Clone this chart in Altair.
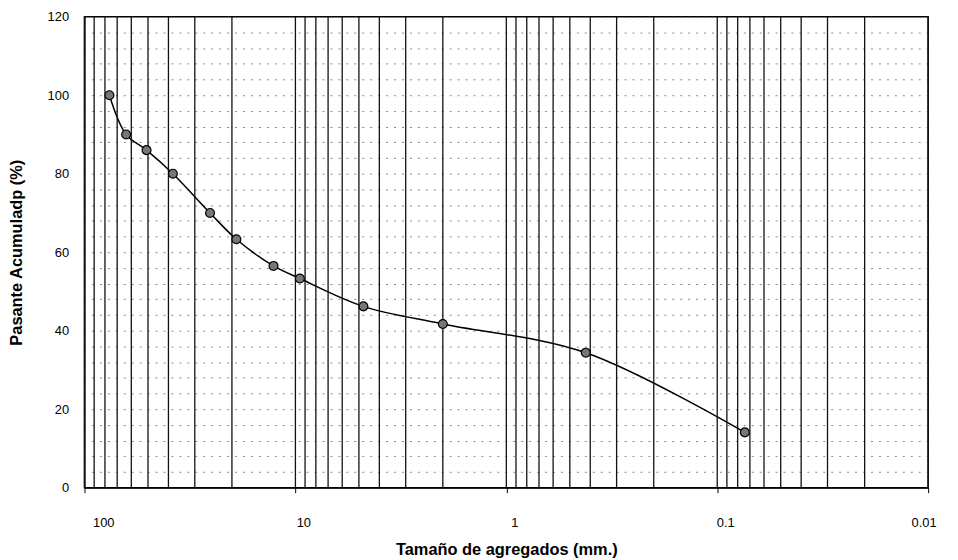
import altair as alt
import pandas as pd

# Sieve sizes (mm) and cumulative passing (%)
sizes_mm = [76.2, 63.5, 50.8, 38.1, 25.4, 19.05, 12.7, 9.525, 4.76, 2.0, 0.42, 0.074]
passing_pct = [100, 90, 86, 80, 70, 63.3, 56.5, 53.3, 46.2, 41.7, 34.4, 14.1]

# Axis structure
x_decades = [100, 10, 1, 0.1, 0.01]
x_grid = [100, 90, 80, 70, 60, 50, 40, 30, 20,
          10, 9, 8, 7, 6, 5, 4, 3, 2,
          1, 0.9, 0.8, 0.7, 0.6, 0.5, 0.4, 0.3, 0.2,
          0.1, 0.09, 0.08, 0.07, 0.06, 0.05, 0.04, 0.03, 0.02, 0.01]
y_grid = [0, 4, 8, 12, 16, 20, 24, 28, 32, 36, 40, 44, 48, 52, 56, 60,
          64, 68, 72, 76, 80, 84, 88, 92, 96, 100, 104, 108, 112, 116, 120]

df = pd.DataFrame({"size": sizes_mm, "pass": passing_pct})
grid_df = pd.DataFrame({"size": x_grid})

FONT = "Liberation Sans"

x_scale = alt.Scale(type="log", domain=[0.01, 100], reverse=True, nice=False)
y_scale = alt.Scale(domain=[0, 120], nice=False)

x_axis = alt.Axis(
    values=x_decades,
    title="Tamaño de agregados (mm.)",
    labelExpr="format(datum.value, '~g')",
    grid=False,
    tickSize=5,
    tickColor="black",
    domainColor="black",
    labelPadding=24,
    labelOffset=8,
    labelFont=FONT,
    labelFontSize=13,
    labelColor="black",
    titleFont=FONT,
    titleFontSize=16.5,
    titleFontWeight="bold",
    titleColor="black",
    titlePadding=12,
)

y_axis = alt.Axis(
    values=y_grid,
    title="Pasante Acumuladp (%)",
    labelExpr="datum.value % 20 == 0 ? datum.label : ''",
    grid=True,
    gridColor="#555555",
    gridDash=[2, 6],
    gridWidth=1,
    gridOpacity=0.7,
    ticks=False,
    domainColor="black",
    labelPadding=16,
    labelFont=FONT,
    labelFontSize=13,
    labelColor="black",
    titleFont=FONT,
    titleFontSize=16.5,
    titleFontWeight="bold",
    titleColor="black",
    titleX=-68,
    titleY=237,
    titleAngle=270,
    titleAlign="center",
    titleBaseline="middle",
)

X = alt.X("size:Q", scale=x_scale, axis=x_axis)
Y = alt.Y("pass:Q", scale=y_scale, axis=y_axis)

vgrid = alt.Chart(grid_df).mark_rule(color="#111111", strokeWidth=1.3).encode(
    x=X,
)

line = alt.Chart(df).mark_line(
    interpolate="catmull-rom", color="black", strokeWidth=1.5
).encode(x=X, y=Y)

points = alt.Chart(df).mark_point(
    filled=True, shape="circle", size=80, fill="#777777",
    stroke="black", strokeWidth=1.2, opacity=1
).encode(x=X, y=Y)

chart = alt.layer(line, vgrid, points).properties(
    width=849,
    height=474,
    autosize=alt.AutoSizeParams(type="none"),
    padding={"left": 77, "top": 7, "right": 22, "bottom": 70},
    background="white",
).configure_view(stroke="black", strokeWidth=1.5)

chart.save("out.html", embed_options={"renderer": "svg", "actions": False})
